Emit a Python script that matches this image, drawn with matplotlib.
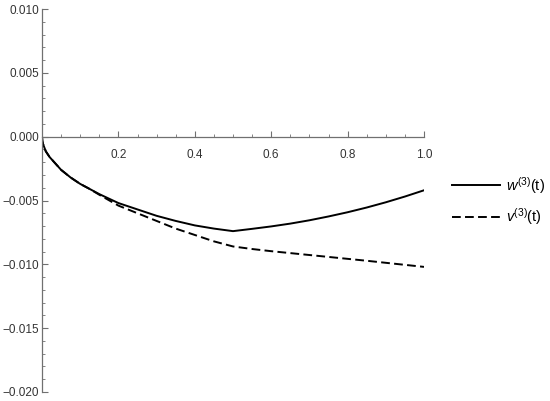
import matplotlib.pyplot as plt
import numpy as np

plt.rcParams['font.family'] = ['Liberation Sans', 'DejaVu Sans']
plt.rcParams['mathtext.fontset'] = 'custom'
plt.rcParams['mathtext.rm'] = 'Liberation Sans'
plt.rcParams['mathtext.it'] = 'Liberation Sans:italic'

# values
t = [0, 0.001, 0.003, 0.01, 0.02, 0.035, 0.05, 0.075, 0.1, 0.125, 0.15, 0.2, 0.25, 0.3,
     0.35, 0.4, 0.45, 0.5,
     0.55, 0.6, 0.65, 0.7, 0.75, 0.8, 0.85, 0.9, 0.95, 1.0]
w3 = [0, -0.00035, -0.0006, -0.00115, -0.0016, -0.0021, -0.0026, -0.0032, -0.0037, -0.0041,
      -0.0045, -0.0052, -0.0057, -0.0062, -0.0066, -0.00695, -0.0072, -0.0074,
      -0.00722, -0.00703, -0.00681, -0.00655, -0.00625, -0.00592, -0.00555, -0.00514,
      -0.00469, -0.0042]
v3 = [0, -0.00035, -0.0006, -0.00115, -0.0016, -0.0021, -0.0026, -0.0032, -0.0037, -0.0041,
      -0.00455, -0.0054, -0.0060, -0.0066, -0.0072, -0.0077, -0.0082, -0.0086,
      -0.0088, -0.00897, -0.00912, -0.00927, -0.00942, -0.00957, -0.00972, -0.00988,
      -0.01004, -0.0102]

xticks = [0.2, 0.4, 0.6, 0.8, 1.0]
yticks = [-0.020, -0.015, -0.010, -0.005, 0.000, 0.005, 0.010]
ylabels = ['\u22120.020', '\u22120.015', '\u22120.010', '\u22120.005', '0.000', '0.005', '0.010']

fig = plt.figure(figsize=(5.5, 4.01), dpi=100)
ax = fig.add_axes([42 / 550, 1 - 392 / 401, 382 / 550, 383 / 401])

ax.plot(t, w3, color='black', lw=1.4, label=r'$w^{(3)}$(t)')
ax.plot(t, v3, color='black', lw=1.4, dashes=(4.5, 2.2), label=r'$v^{(3)}$(t)')

ax.set_xlim(0, 1.0)
ax.set_ylim(-0.020, 0.010)

axc = '#707070'
ax.spines['left'].set_position(('data', 0))
ax.spines['bottom'].set_position(('data', 0))
ax.spines['right'].set_visible(False)
ax.spines['top'].set_visible(False)
for s in ('left', 'bottom'):
    ax.spines[s].set_color(axc)
    ax.spines[s].set_linewidth(0.9)

ax.set_xticks(xticks)
ax.set_xticklabels([f'{x:.1f}' for x in xticks])
ax.set_xticks(np.arange(0.05, 1.0, 0.05), minor=True)
ax.set_yticks(yticks)
ax.set_yticklabels(ylabels)
ax.set_yticks(np.arange(-0.020, 0.0101, 0.001), minor=True)

ax.tick_params(axis='both', which='major', direction='in', length=4, width=0.8,
               color=axc, labelsize=8.5, labelcolor='#333333')
ax.tick_params(axis='both', which='minor', direction='in', length=2.2, width=0.6, color=axc)
ax.tick_params(axis='x', which='major', pad=9)
ax.tick_params(axis='y', which='major', pad=2)

ax.legend(loc='center left', bbox_to_anchor=(446 / 550, 1 - 201 / 401),
          bbox_transform=fig.transFigure, frameon=False, fontsize=10.5,
          handlelength=3.3, handletextpad=0.4, labelspacing=0.75, borderaxespad=0)

fig.savefig('out.png', dpi=100)
